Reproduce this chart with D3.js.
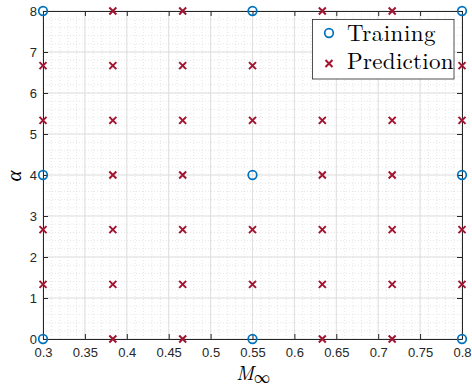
<!DOCTYPE html>
<html><head><meta charset="utf-8">
<script src="https://cdn.jsdelivr.net/npm/d3@7"></script>
<style>body{margin:0;background:#fff}svg{display:block}</style>
</head><body>
<svg id="c" width="472" height="391"></svg>
<script>
const trainingX = [0.3, 0.55, 0.8];
const trainingY = [0, 4, 8];
const predX = [0.3, 0.38333, 0.46667, 0.55, 0.63333, 0.71667, 0.8];
const predY = [0, 1.33333, 2.66667, 4, 5.33333, 6.66667, 8];
const xTicks = [0.3, 0.35, 0.4, 0.45, 0.5, 0.55, 0.6, 0.65, 0.7, 0.75, 0.8];
const xTickLabels = ["0.3","0.35","0.4","0.45","0.5","0.55","0.6","0.65","0.7","0.75","0.8"];
const yTicks = [0,1,2,3,4,5,6,7,8];
const yTickLabels = ["0","1","2","3","4","5","6","7","8"];

const training = [];
trainingX.forEach(x => trainingY.forEach(y => training.push({x, y})));
const prediction = [];
predX.forEach(x => predY.forEach(y => {
  const isTrain = training.some(t => Math.abs(t.x - x) < 1e-6 && Math.abs(t.y - y) < 1e-6);
  if (!isTrain) prediction.push({x, y});
}));

const L = 43, R = 462, T = 11, B = 339;
const x = d3.scaleLinear().domain([0.3, 0.8]).range([L, R]);
const y = d3.scaleLinear().domain([0, 8]).range([B, T]);
const svg = d3.select("#c");
const axisColor = "#262626";

// minor grid
const minorX = d3.range(0.3, 0.8001, 0.01).map(v => +v.toFixed(3));
const minorY = d3.range(0, 8.001, 0.2).map(v => +v.toFixed(2));
const g = svg.append("g");
g.selectAll(".mx").data(minorX).join("line")
  .attr("x1", d => x(d)).attr("x2", d => x(d)).attr("y1", T).attr("y2", B)
  .attr("stroke", "#d4d4d4").attr("stroke-width", 0.6).attr("stroke-dasharray", "1,2");
g.selectAll(".my").data(minorY).join("line")
  .attr("y1", d => y(d)).attr("y2", d => y(d)).attr("x1", L).attr("x2", R)
  .attr("stroke", "#d4d4d4").attr("stroke-width", 0.6).attr("stroke-dasharray", "1,2");
// major grid
g.selectAll(".gx").data(xTicks).join("line")
  .attr("x1", d => x(d)).attr("x2", d => x(d)).attr("y1", T).attr("y2", B)
  .attr("stroke", "#dfdfdf").attr("stroke-width", 1);
g.selectAll(".gy").data(yTicks).join("line")
  .attr("y1", d => y(d)).attr("y2", d => y(d)).attr("x1", L).attr("x2", R)
  .attr("stroke", "#dfdfdf").attr("stroke-width", 1);

// axes
const tl = 5;
const fmtX = (d, i) => xTickLabels[i];
const fmtY = (d, i) => yTickLabels[i];
const ax = svg.append("g").attr("transform", `translate(0,${B})`)
  .call(d3.axisBottom(x).tickValues(xTicks).tickFormat(fmtX).tickSizeInner(-tl).tickSizeOuter(0).tickPadding(9));
const axT = svg.append("g").attr("transform", `translate(0,${T})`)
  .call(d3.axisTop(x).tickValues(xTicks).tickFormat("").tickSizeInner(-tl).tickSizeOuter(0));
const ay = svg.append("g").attr("transform", `translate(${L},0)`)
  .call(d3.axisLeft(y).tickValues(yTicks).tickFormat(fmtY).tickSizeInner(-tl).tickSizeOuter(0).tickPadding(6));
const ayR = svg.append("g").attr("transform", `translate(${R},0)`)
  .call(d3.axisRight(y).tickValues(yTicks).tickFormat("").tickSizeInner(-tl).tickSizeOuter(0));
[ax, axT, ay, ayR].forEach(a => {
  a.selectAll("path").attr("stroke", axisColor).attr("stroke-width", 1);
  a.selectAll("line").attr("stroke", axisColor).attr("stroke-width", 1);
  a.selectAll("text").attr("fill", axisColor).style("font-family", "'Liberation Sans', Arial, sans-serif").style("font-size", "13px");
});

// markers
const blue = "#0072BD", red = "#A2142F";
svg.append("g").selectAll("path").data(prediction).join("path")
  .attr("transform", d => `translate(${x(d.x)},${y(d.y)})`)
  .attr("d", "M-3.5,-3.5L3.5,3.5M-3.5,3.5L3.5,-3.5")
  .attr("stroke", red).attr("stroke-width", 2).attr("fill", "none");
svg.append("g").selectAll("circle").data(training).join("circle")
  .attr("cx", d => x(d.x)).attr("cy", d => y(d.y)).attr("r", 4.3)
  .attr("stroke", blue).attr("stroke-width", 1.7).attr("fill", "none");

// legend
const lg = svg.append("g");
lg.append("rect").attr("x", 312.5).attr("y", 19.5).attr("width", 141.5).attr("height", 59.5)
  .attr("fill", "#fff").attr("stroke", "#262626").attr("stroke-width", 0.8);
lg.append("circle").attr("cx", 329).attr("cy", 33).attr("r", 4.3)
  .attr("stroke", blue).attr("stroke-width", 1.7).attr("fill", "none");
lg.append("path").attr("transform", "translate(329,63.5)")
  .attr("d", "M-3.5,-3.5L3.5,3.5M-3.5,3.5L3.5,-3.5")
  .attr("stroke", red).attr("stroke-width", 2);
const serif = "'Latin Modern Roman','CMU Serif','Liberation Serif','DejaVu Serif',serif";
lg.append("text").attr("x", 347).attr("y", 41).text("Training")
  .style("font-family", serif).style("font-size", "23px").style("letter-spacing", "0.5px").attr("fill", "#000");
lg.append("text").attr("x", 347).attr("y", 69).text("Prediction")
  .style("font-family", serif).style("font-size", "23px").style("letter-spacing", "0.3px").attr("fill", "#000");

// axis labels
svg.append("text").attr("transform", "translate(21,176) rotate(-90)")
  .attr("text-anchor", "middle").text("α")
  .style("font-family", serif).style("font-style", "italic").style("font-size", "21px").attr("fill", "#000");
const xl = svg.append("text").attr("x", 253).attr("y", 380).attr("text-anchor", "middle")
  .style("font-family", serif).style("font-size", "20px").attr("fill", "#000");
xl.append("tspan").text("M").style("font-style", "italic");
xl.append("tspan").text("∞").attr("dy", 3).style("font-size", "16px");
</script>
</body></html>
